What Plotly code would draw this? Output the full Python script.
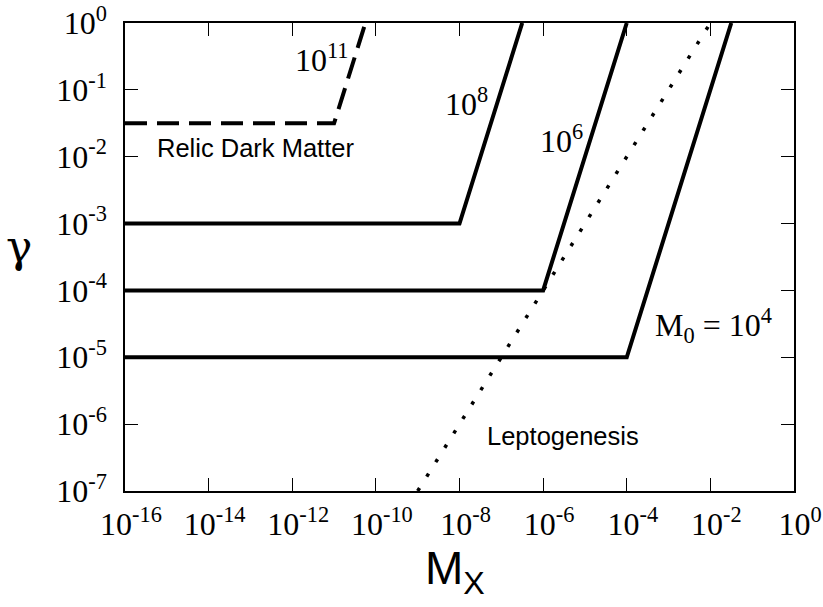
import plotly.graph_objects as go

# ---- data ----
mx_m4 = [1e-16, 1e-4, 10**-1.5]
gamma_m4 = [1e-5, 1e-5, 1.0]
mx_m6 = [1e-16, 1e-6, 1e-4]
gamma_m6 = [1e-4, 1e-4, 1.0]
mx_m8 = [1e-16, 1e-8, 10**-6.5]
gamma_m8 = [1e-3, 1e-3, 1.0]
mx_m11 = [1e-16, 1e-11, 10**-10.25]
gamma_m11 = [10**-1.5, 10**-1.5, 1.0]
mx_lepto = [1e-9, 1e-2]
gamma_lepto = [1e-7, 1.0]

x_tick_exps = [-16, -14, -12, -10, -8, -6, -4, -2, 0]
y_tick_exps = [-7, -6, -5, -4, -3, -2, -1, 0]
x_tickvals = [10.0**e for e in x_tick_exps]
x_ticktext = [f"10<sup>{e}</sup>" for e in x_tick_exps]
y_tickvals = [10.0**e for e in y_tick_exps]
y_ticktext = [f"10<sup>{e}</sup>" for e in y_tick_exps]

SERIF = "Liberation Serif"
SANS = "Liberation Sans"

fig = go.Figure()
solid = dict(color="black", width=4)
for xs, ys in [(mx_m4, gamma_m4), (mx_m6, gamma_m6), (mx_m8, gamma_m8)]:
    fig.add_trace(go.Scatter(x=xs, y=ys, mode="lines", line=solid, showlegend=False))
fig.add_trace(go.Scatter(x=mx_m11, y=gamma_m11, mode="lines",
                         line=dict(color="black", width=4, dash="22px,10px"), showlegend=False))
fig.add_trace(go.Scatter(x=mx_lepto, y=gamma_lepto, mode="lines",
                         line=dict(color="black", width=3.5, dash="3.5px,13.5px"), showlegend=False))

axis_common = dict(
    type="log", showgrid=False, zeroline=False, showline=True, linecolor="black",
    linewidth=1.5, mirror="ticks", ticks="inside", ticklen=13, tickwidth=1,
    tickcolor="black", tickfont=dict(family=SERIF, size=32, color="black"),
    automargin=False,
)
fig.update_xaxes(range=[-16, 0], tickvals=x_tickvals, ticktext=x_ticktext,
                 ticklabelstandoff=4, ticklabelshift=6, **axis_common)
fig.update_yaxes(range=[-7, 0], tickvals=y_tickvals, ticktext=y_ticktext,
                 ticklabelstandoff=10, **axis_common)

def ann(text, x, y, family, size, xref="x", yref="y", xanchor="left"):
    fig.add_annotation(text=text, x=x, y=y, xref=xref, yref=yref, showarrow=False,
                       xanchor=xanchor, yanchor="middle",
                       font=dict(family=family, size=size, color="black"))

ann("10<sup>11</sup>", -11.98, -0.52, SERIF, 32)
ann("10<sup>8</sup>", -8.39, -1.176, SERIF, 32)
ann("10<sup>6</sup>", -6.12, -1.73, SERIF, 32)
ann("M<sub>0</sub> = 10<sup>4</sup>", -3.37, -4.52, SERIF, 32)
ann("Relic Dark Matter", -15.28, -1.864, SANS, 25.5)
ann("Leptogenesis", -7.39, -6.18, SANS, 25.5)
ann("M<sub>X</sub>", 0.493, -0.173, SANS, 46, xref="paper", yref="paper", xanchor="center")
ann("γ", -0.158, 0.522, "DejaVu Serif", 44, xref="paper", yref="paper", xanchor="center")

fig.update_layout(
    width=823, height=607,
    margin=dict(l=125, r=29, t=23, b=115.6),
    plot_bgcolor="white", paper_bgcolor="white",
)
fig.write_html(
    "out.html",
    config={"displayModeBar": False},
    post_script="document.body.style.margin='0';document.body.style.overflow='hidden';",
)
